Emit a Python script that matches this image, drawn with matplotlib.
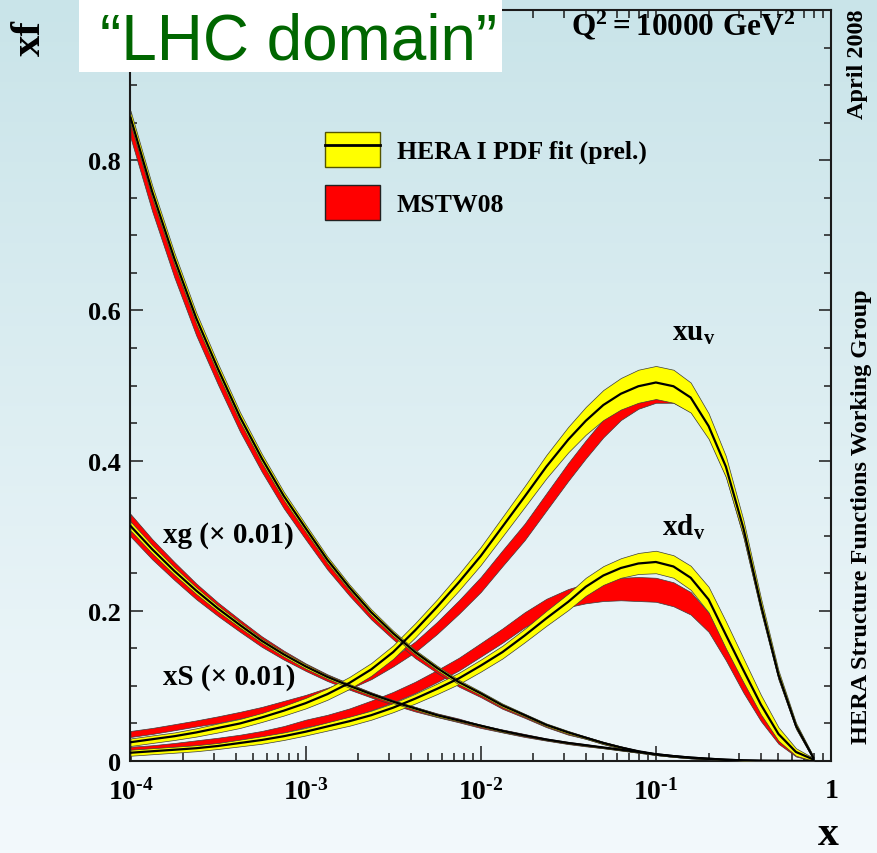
import numpy as np
import matplotlib
matplotlib.use('Agg')
import matplotlib.pyplot as plt
from matplotlib.patches import Patch, Rectangle
from matplotlib.lines import Line2D
from matplotlib.legend_handler import HandlerTuple
from matplotlib.ticker import (FixedLocator, FuncFormatter, LogLocator,
                               MultipleLocator, NullFormatter)

plt.rcParams['mathtext.fontset'] = 'custom'
plt.rcParams['mathtext.rm'] = 'Liberation Serif:bold'
plt.rcParams['mathtext.bf'] = 'Liberation Serif:bold'
plt.rcParams['mathtext.it'] = 'Liberation Serif:bold'
plt.rcParams['mathtext.default'] = 'rm'
plt.rcParams['font.family'] = ['Liberation Serif', 'DejaVu Serif']
plt.rcParams['font.weight'] = 'bold'

# ---------------- data ----------------
X = [1e-4, 1.33e-4, 1.78e-4, 2.37e-4, 3.16e-4, 4.22e-4, 5.62e-4, 7.5e-4,
     1e-3, 1.33e-3, 1.78e-3, 2.37e-3, 3.16e-3, 4.22e-3, 5.62e-3, 7.5e-3,
     0.01, 0.0133, 0.0178, 0.0237, 0.0316, 0.0398, 0.0501, 0.0631, 0.0794,
     0.1, 0.126, 0.158, 0.2, 0.251, 0.316, 0.398, 0.501, 0.631, 0.794]

# xu_v
XUV_HERA = [0.025, 0.029, 0.033, 0.038, 0.044, 0.050, 0.058, 0.067,
            0.077, 0.089, 0.104, 0.122, 0.145, 0.174, 0.205, 0.238,
            0.273, 0.312, 0.352, 0.392, 0.428, 0.453, 0.474, 0.489, 0.499,
            0.504, 0.499, 0.484, 0.446, 0.392, 0.310, 0.208, 0.115, 0.047, 0.004]
XUV_HERA_ERR = [0.005, 0.005, 0.005, 0.0055, 0.006, 0.006, 0.006, 0.0065,
                0.007, 0.0075, 0.008, 0.0085, 0.009, 0.0095, 0.010, 0.011,
                0.012, 0.013, 0.014, 0.0155, 0.017, 0.0185, 0.020, 0.021, 0.022,
                0.022, 0.022, 0.020, 0.017, 0.014, 0.011, 0.009, 0.006, 0.004, 0.002]
XUV_MSTW = [0.036, 0.040, 0.045, 0.050, 0.055, 0.061, 0.067, 0.075,
            0.083, 0.092, 0.102, 0.115, 0.132, 0.152, 0.177, 0.205,
            0.235, 0.270, 0.305, 0.345, 0.385, 0.415, 0.443, 0.465, 0.479,
            0.487, 0.487, 0.475, 0.440, 0.387, 0.305, 0.205, 0.113, 0.046, 0.004]
XUV_MSTW_ERR = [0.004, 0.004, 0.004, 0.004, 0.0045, 0.0045, 0.005, 0.005,
                0.005, 0.0055, 0.006, 0.006, 0.006, 0.007, 0.008, 0.009,
                0.010, 0.0105, 0.011, 0.0115, 0.012, 0.012, 0.012, 0.011, 0.010,
                0.010, 0.010, 0.010, 0.009, 0.008, 0.007, 0.005, 0.004, 0.003, 0.002]

# xd_v
XDV_HERA = [0.011, 0.013, 0.015, 0.017, 0.020, 0.024, 0.028, 0.033,
            0.039, 0.046, 0.053, 0.061, 0.071, 0.083, 0.096, 0.110,
            0.127, 0.145, 0.167, 0.190, 0.212, 0.232, 0.247, 0.257, 0.263,
            0.265, 0.259, 0.244, 0.215, 0.168, 0.121, 0.075, 0.036, 0.012, 0.002]
XDV_HERA_ERR = [0.004, 0.004, 0.004, 0.004, 0.004, 0.0045, 0.005, 0.005,
                0.005, 0.0055, 0.006, 0.006, 0.006, 0.0065, 0.007, 0.0075,
                0.008, 0.0085, 0.009, 0.010, 0.011, 0.012, 0.0125, 0.013, 0.014,
                0.015, 0.015, 0.016, 0.017, 0.018, 0.016, 0.013, 0.009, 0.005, 0.002]
XDV_MSTW = [0.016, 0.018, 0.021, 0.024, 0.027, 0.031, 0.036, 0.042,
            0.050, 0.056, 0.064, 0.074, 0.085, 0.098, 0.113, 0.129,
            0.148, 0.167, 0.188, 0.205, 0.217, 0.223, 0.227, 0.229, 0.229,
            0.228, 0.222, 0.210, 0.185, 0.145, 0.100, 0.060, 0.028, 0.009, 0.001]
XDV_MSTW_ERR = [0.003, 0.003, 0.003, 0.0035, 0.004, 0.004, 0.004, 0.0045,
                0.005, 0.0055, 0.006, 0.0065, 0.007, 0.0075, 0.008, 0.0085,
                0.009, 0.0095, 0.010, 0.011, 0.012, 0.013, 0.014, 0.015, 0.016,
                0.016, 0.016, 0.015, 0.013, 0.011, 0.009, 0.007, 0.005, 0.003, 0.001]

# xg (x 0.01)
XG_HERA = [0.857, 0.758, 0.669, 0.590, 0.522, 0.458, 0.403, 0.353,
           0.310, 0.268, 0.231, 0.198, 0.170, 0.145, 0.124, 0.105,
           0.090, 0.074, 0.061, 0.048, 0.038, 0.031, 0.024, 0.018, 0.013,
           0.009, 0.0065, 0.0045, 0.003, 0.0017, 0.0008, 0.0003, 0.0001, 0.0, 0.0]
XG_HERA_ERR = [0.009, 0.0085, 0.008, 0.0075, 0.007, 0.0065, 0.006, 0.0055,
               0.005, 0.0045, 0.004, 0.004, 0.0035, 0.003, 0.003, 0.003,
               0.0025, 0.0025, 0.002, 0.002, 0.002, 0.0015, 0.0015, 0.0015, 0.001,
               0.001, 0.001, 0.001, 0.0008, 0.0006, 0.0004, 0.0002, 0.0001, 0.0, 0.0]
XG_MSTW = [0.843, 0.744, 0.655, 0.577, 0.510, 0.447, 0.393, 0.344,
           0.302, 0.261, 0.225, 0.193, 0.166, 0.141, 0.121, 0.102,
           0.088, 0.072, 0.060, 0.047, 0.037, 0.031, 0.024, 0.018, 0.013,
           0.009, 0.0065, 0.0045, 0.003, 0.0017, 0.0008, 0.0003, 0.0001, 0.0, 0.0]
XG_MSTW_ERR = [0.013, 0.012, 0.011, 0.010, 0.009, 0.0085, 0.008, 0.0075,
               0.007, 0.006, 0.005, 0.0045, 0.004, 0.004, 0.0035, 0.003,
               0.003, 0.0025, 0.0025, 0.002, 0.002, 0.0015, 0.0015, 0.0015, 0.001,
               0.001, 0.001, 0.001, 0.0008, 0.0006, 0.0004, 0.0002, 0.0001, 0.0, 0.0]

# xS (x 0.01)
XS_HERA = [0.313, 0.282, 0.253, 0.227, 0.203, 0.181, 0.160, 0.142,
           0.126, 0.112, 0.100, 0.089, 0.079, 0.070, 0.061, 0.054,
           0.047, 0.040, 0.034, 0.0286, 0.024, 0.021, 0.018, 0.015, 0.012,
           0.009, 0.0065, 0.0045, 0.003, 0.0017, 0.0008, 0.0003, 0.0001, 0.0, 0.0]
XS_HERA_ERR = [0.006, 0.0055, 0.005, 0.0045, 0.004, 0.0035, 0.003, 0.003,
               0.003, 0.0025, 0.0025, 0.002, 0.002, 0.002, 0.002, 0.0015,
               0.0015, 0.0015, 0.001, 0.001, 0.001, 0.001, 0.001, 0.001, 0.001,
               0.001, 0.001, 0.0008, 0.0006, 0.0005, 0.0004, 0.0002, 0.0001, 0.0, 0.0]
XS_MSTW = [0.314, 0.282, 0.253, 0.226, 0.202, 0.180, 0.159, 0.141,
           0.125, 0.111, 0.099, 0.088, 0.078, 0.069, 0.061, 0.054,
           0.046, 0.040, 0.034, 0.0286, 0.024, 0.021, 0.018, 0.015, 0.012,
           0.009, 0.0065, 0.0045, 0.003, 0.0017, 0.0008, 0.0003, 0.0001, 0.0, 0.0]
XS_MSTW_ERR = [0.015, 0.0135, 0.012, 0.0105, 0.009, 0.008, 0.007, 0.006,
               0.005, 0.0045, 0.004, 0.0035, 0.003, 0.003, 0.0025, 0.0025,
               0.002, 0.002, 0.002, 0.0015, 0.0015, 0.0015, 0.001, 0.001, 0.001,
               0.001, 0.001, 0.0008, 0.0006, 0.0005, 0.0004, 0.0002, 0.0001, 0.0, 0.0]

HERA_SETS = [(XUV_HERA, XUV_HERA_ERR), (XDV_HERA, XDV_HERA_ERR),
             (XG_HERA, XG_HERA_ERR), (XS_HERA, XS_HERA_ERR)]
MSTW_SETS = [(XUV_MSTW, XUV_MSTW_ERR), (XDV_MSTW, XDV_MSTW_ERR),
             (XG_MSTW, XG_MSTW_ERR), (XS_MSTW, XS_MSTW_ERR)]

LEGEND_LABELS = ['HERA I PDF fit (prel.)', 'MSTW08']
Y_TICKS = [0.0, 0.2, 0.4, 0.6, 0.8]

YELLOW = '#FFFF00'
RED = '#FF0000'
EDGE = '#3C3C3C'

# ---------------- figure ----------------
W, H = 878, 854
fig = plt.figure(figsize=(W / 100, H / 100), dpi=100)

# background gradient
bg = fig.add_axes([0, 0, 1, 1], zorder=-10)
top_c = np.array([201, 228, 233]) / 255.0
bot_c = np.array([243, 249, 252]) / 255.0
t = np.linspace(0, 1, 256)[:, None, None]
grad = top_c[None, None, :] * (1 - t) + bot_c[None, None, :] * t
bg.imshow(grad, aspect='auto', extent=[0, 1, 0, 1])
bg.set_axis_off()

L, R, B, T = 130.5, 831.0, 762.0, 11.0
ax = fig.add_axes([L / W, 1 - B / H, (R - L) / W, (B - T) / H])
ax.set_facecolor('none')
ax.set_xscale('log')
ax.set_xlim(1e-4, 1)
ax.set_ylim(0, 1.0)

x = np.array(X)
for c, e in MSTW_SETS:
    c = np.array(c); e = np.array(e)
    ax.fill_between(x, c - e, c + e, facecolor=RED, edgecolor=EDGE,
                    linewidth=0.5, zorder=2)
for c, e in HERA_SETS:
    c = np.array(c); e = np.array(e)
    ax.fill_between(x, c - e, c + e, facecolor=YELLOW, edgecolor=EDGE,
                    linewidth=0.5, zorder=3)
for c, e in HERA_SETS:
    ax.plot(x, c, color='black', lw=1.6, zorder=4, solid_capstyle='round',
            solid_joinstyle='round')

# axes styling
for side in ['left', 'right', 'top', 'bottom']:
    ax.spines[side].set_linewidth(1.5)
    ax.spines[side].set_color('#1a1a1a')

ax.xaxis.set_major_locator(LogLocator(base=10, numticks=10))
ax.xaxis.set_minor_locator(LogLocator(base=10, subs=np.arange(2, 10), numticks=60))
ax.xaxis.set_minor_formatter(NullFormatter())


def xfmt(v, pos):
    e = int(round(np.log10(v)))
    return '$1$' if e == 0 else r'$10^{\text{-}%d}$' % (-e)


ax.xaxis.set_major_formatter(FuncFormatter(xfmt))
ax.yaxis.set_major_locator(FixedLocator(Y_TICKS))
ax.yaxis.set_minor_locator(MultipleLocator(0.05))
ax.yaxis.set_major_formatter(FuncFormatter(lambda v, p: '0' if v == 0 else '%.1f' % v))

ax.tick_params(axis='both', which='both', direction='in', top=True, right=True,
               width=1.1, colors='#1a1a1a', labelcolor='black')
ax.tick_params(axis='x', which='major', length=11, pad=12, labelsize=20)
ax.tick_params(axis='x', which='minor', length=6)
ax.tick_params(axis='y', which='major', length=9, pad=7, labelsize=19)
ax.tick_params(axis='y', which='minor', length=5)

# legend
pY = Patch(facecolor=YELLOW, edgecolor='#555500', linewidth=1.0)
lK = Line2D([], [], color='black', lw=2)
pR = Patch(facecolor=RED, edgecolor='#222222', linewidth=1.0)
fs_leg = 18.5
leg = ax.legend(handles=[(pY, lK), pR], labels=LEGEND_LABELS,
                loc='upper left',
                bbox_to_anchor=((325 - L) / (R - L), (B - 133) / (B - T)),
                bbox_transform=ax.transAxes, frameon=False,
                prop=dict(family='Liberation Serif', weight='bold', size=fs_leg),
                handlelength=55 / (fs_leg * 100 / 72),
                handleheight=44 / (fs_leg * 100 / 72),
                handletextpad=17 / (fs_leg * 100 / 72),
                labelspacing=18 / (fs_leg * 100 / 72),
                borderpad=0, borderaxespad=0,
                handler_map={tuple: HandlerTuple(ndivide=1)})


def axfrac(px, py):
    return (px - L) / (R - L), (B - py) / (B - T)


lab = dict(transform=ax.transAxes, fontsize=21, fontweight='bold',
           family='Liberation Serif', zorder=6)
ax.text(*axfrac(672, 341), r'$\mathrm{xu_v}$', ha='left', va='baseline', **lab)
ax.text(*axfrac(662, 536), r'$\mathrm{xd_v}$', ha='left', va='baseline', **lab)
ax.text(*axfrac(163, 543), 'xg (\u00d7 0.01)', ha='left', va='baseline', **lab)
ax.text(*axfrac(163, 685), 'xS (\u00d7 0.01)', ha='left', va='baseline', **lab)
ax.text(*axfrac(795, 35), r'$\mathrm{Q^2 = 10000\ GeV^2}$', ha='right',
        va='baseline', transform=ax.transAxes, fontsize=22.5, zorder=6)

# figure texts
fig.text(30 / W, 1 - 38 / H, 'xf', rotation=90, ha='center', va='center',
         fontsize=31, fontweight='bold', family='Liberation Serif')
fig.text(828 / W, 1 - 845 / H, 'x', ha='center', va='baseline',
         fontsize=30, fontweight='bold', family='Liberation Serif')
fig.text(858 / W, 1 - 64 / H, 'April 2008', rotation=90, ha='center',
         va='center', fontsize=17.5, fontweight='bold', family='Liberation Serif')
fig.text(862 / W, 1 - 517 / H, 'HERA Structure Functions Working Group',
         rotation=90, ha='center', va='center', fontsize=17.5,
         fontweight='bold', family='Liberation Serif')

# "LHC domain" box
box = Rectangle((79 / W, 1 - 73 / H), (502 - 79) / W, 73 / H + 0.01,
                transform=fig.transFigure, facecolor='white',
                edgecolor='none', zorder=5)
fig.add_artist(box)
fig.text(100 / W, 1 - 60 / H, '\u201cLHC domain\u201d', ha='left',
         va='baseline', fontsize=46, color='#006600',
         family='Liberation Sans', fontweight='normal', zorder=6)

fig.savefig('out.png', dpi=100)
